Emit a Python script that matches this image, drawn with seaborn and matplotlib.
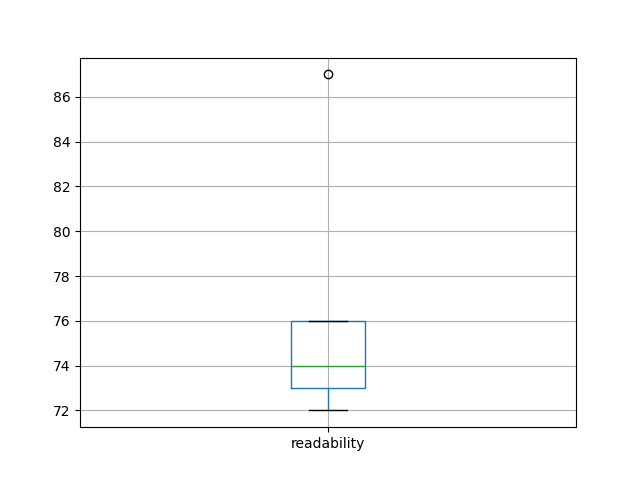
import pandas as pd
import matplotlib
matplotlib.use("Agg")
import matplotlib.pyplot as plt
import seaborn as sns

# 数据
readability = [72, 73, 74, 76, 87]
df = pd.DataFrame({"readability": readability})

fig, ax = plt.subplots(figsize=(6.4, 4.8), dpi=100)

sns.boxplot(
    data=df,
    ax=ax,
    width=0.15,
    fill=False,
    linecolor="C0",
    linewidth=1,
    boxprops=dict(color="C0"),
    whiskerprops=dict(color="C0"),
    capprops=dict(color="black"),
    medianprops=dict(color="C2"),
    flierprops=dict(marker="o", markerfacecolor="none", markeredgecolor="black", markersize=6),
)

ax.set_xlim(-0.5, 0.5)
ax.grid(True, color="#b0b0b0", linewidth=0.8)
ax.set_axisbelow(True)

plt.savefig("out.png", dpi=100)
